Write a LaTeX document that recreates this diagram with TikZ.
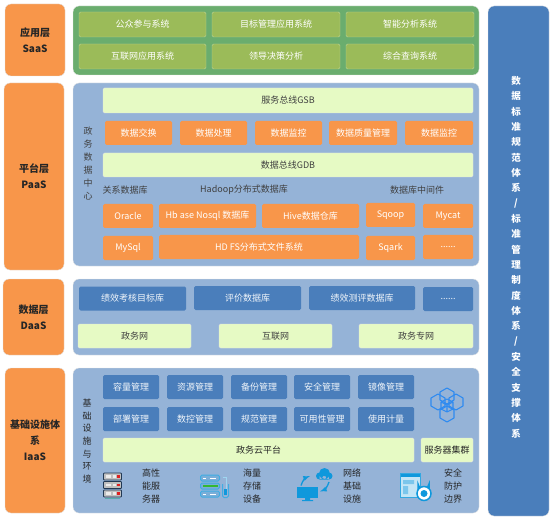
\documentclass[tikz,border=0pt]{standalone}
\usepackage{fontspec}
\setmainfont{Noto Sans CJK SC}
\usepackage{xcolor}
\usetikzlibrary{positioning,calc}
\definecolor{org}{HTML}{F8964A}
\definecolor{grn}{HTML}{6AAD6E}
\definecolor{olv}{HTML}{9BBB59}
\definecolor{sky}{HTML}{95B3D7}
\definecolor{nav}{HTML}{4A7EBB}
\definecolor{pal}{HTML}{E6FAC4}
\definecolor{ico}{HTML}{2F8BF0}
\definecolor{lnk}{HTML}{0F98DC}
\definecolor{txt}{HTML}{404040}
\begin{document}
\begin{tikzpicture}[x=1pt,y=-1pt,font=\fontsize{9}{10}\selectfont,
  layer/.style={draw=black!12, fill=org, rounded corners=6pt, inner sep=0pt, align=center, font=\fontsize{10}{16}\selectfont\bfseries, text=black!85},
  panel/.style={draw=black!10, rounded corners=6pt, inner sep=0pt},
  appbox/.style={draw=white!35!olv, fill=olv, rounded corners=1.5pt, inner sep=0pt, minimum height=25pt, text=white},
  orgbox/.style={fill=org, rounded corners=1.5pt, inner sep=0pt, minimum height=24pt, text=white},
  navbox/.style={fill=nav, rounded corners=1.5pt, inner sep=0pt, minimum height=24pt, text=white!92!nav},
  palbox/.style={draw=black!10, fill=pal, rounded corners=1.5pt, inner sep=0pt, minimum height=24pt, text=txt},
  lab/.style={inner sep=0pt, text=txt, font=\fontsize{9}{10}\selectfont},
  vlab/.style={inner sep=0pt, text=txt, font=\fontsize{9}{10}\selectfont},
  dark/.style={inner sep=0pt, text=black!85, font=\fontsize{9}{10}\selectfont},
  hexa/.pic={\draw[ico, line width=1.1pt, line join=round] (0,-8)--(7,-4)--(7,4)--(0,8)--(-7,4)--(-7,-4)--cycle;}]
\useasboundingbox (0,0) rectangle (553,518);
% left column
\node[layer, minimum width=60pt, minimum height=72pt] (saas) at (35,40) {应用层\\SaaS};
\node[layer, minimum width=60pt, minimum height=187pt] (paas) at (34,176.5) {平台层\\PaaS};
\node[layer, minimum width=61pt, minimum height=76pt] (daas) at (33.5,317) {数据层\\DaaS};
\node[layer, minimum width=60pt, minimum height=145pt] (iaas) at (35,440.5) {基础设施体\\系\\IaaS};
% panels
\node[panel, fill=grn, minimum width=406pt, minimum height=69pt] (apppanel) at (276,40.5) {};
\node[panel, fill=sky, minimum width=406pt, minimum height=183pt] (platpanel) at (276,174.5) {};
\node[panel, fill=sky, minimum width=406pt, minimum height=76pt] (datapanel) at (276,317) {};
\node[panel, fill=sky, minimum width=406pt, minimum height=145pt] (infrapanel) at (276,440.5) {};
\node[panel, fill=nav, minimum width=61pt, minimum height=510pt] (stdpanel) at (518.5,261) {};
\foreach \t [count=\i from 0] in {数,据,标,准,规,范,体,系,/,标,准,管,理,制,度,体,系,/,安,全,支,撑,体,系}
  \node[inner sep=0pt, text=white, font=\fontsize{9.5}{10}\selectfont\bfseries] (std\i) at (516,81+15.32*\i) {\t};
% SaaS
\foreach \n/\x/\y/\w/\t in {a/142.5/24.5/127/公众参与系统, b/276/24.5/128/目标管理应用系统, c/410/24.5/128/智能分析系统,
  d/142.5/56.5/127/互联网应用系统, e/276/56.5/128/领导决策分析, f/410/56.5/128/综合查询系统}
  \node[appbox, minimum width=\w pt] (app\n) at (\x,\y) {\t};
% PaaS
\node[palbox, minimum width=370pt, minimum height=25pt] (gsb) at (288,100.5) {服务总线GSB};
\foreach \n/\x/\w/\t in {a/138.5/67/数据交换, b/213.5/67/数据处理, c/288.5/67/数据监控, d/363/68/数据质量管理, e/439/68/数据监控}
  \node[orgbox, minimum width=\w pt] (svc\n) at (\x,133) {\t};
\node[palbox, minimum width=370pt] (gdb) at (288,165) {数据总线GDB};
\foreach \t [count=\i from 0] in {政,务,数,据,中,心}
  \node[vlab] (dc\i) at (88,131+13*\i) {\t};
\node[lab] (rdb) at (125,190) {关系数据库};
\node[lab] (hadoop) at (244,190) {Hadoop分布式数据库};
\node[lab] (mid) at (417,190) {数据库中间件};
\foreach \n/\x/\y/\w/\t in {oracle/128/216/50/Oracle, hbase/207.5/216/97/Hb ase Nosql 数据库, hive/310.5/216/97/Hive数据仓库,
  sqoop/390.5/215/49/Sqoop, mycat/448/216/50/Mycat, mysql/128/248/50/MySql, hdfs/259/247/200/HD FS分布式文件系统,
  sqark/390.5/248/49/Sqark, more/448/247/50/{......}}
  \node[orgbox, minimum width=\w pt] (\n) at (\x,\y) {\t};
% DaaS
\foreach \n/\x/\y/\w/\t in {kpi/132.5/298.5/107/绩效考核目标库, eval/247.5/298/107/评价数据库, perf/362/298/106/绩效测评数据库, dots/448/299/50/{......}}
  \node[navbox, minimum width=\w pt] (\n) at (\x,\y) {\t};
\foreach \n/\x/\w/\t in {gov/134.5/113/政务网, web/275.5/113/互联网, priv/416/114/政务专网}
  \node[palbox, minimum width=\w pt] (\n) at (\x,336) {\t};
% IaaS
\foreach \n/\x/\t in {cap/131/容量管理, res/195/资源管理, bak/259/备份管理, sec/322/安全管理, img/386/镜像管理}
  \node[navbox, minimum width=56pt] (\n) at (\x,387) {\t};
\foreach \n/\x/\t in {dep/131/部署管理, ctl/195/数控管理, nrm/259/规范管理, ava/322/可用性管理, use/386/使用计量}
  \node[navbox, minimum width=56pt] (\n) at (\x,419) {\t};
\node[palbox, minimum width=311pt, text=black!85] (cloud) at (258.5,450) {政务云平台};
\node[palbox, minimum width=52pt, text=black!85] (cluster) at (447,450) {服务器集群};
\foreach \t [count=\i from 0] in {基,础,设,施,与,环,境}
  \node[dark] (infra\i) at (87,403+12.7*\i) {\t};
\foreach \n/\x/\a/\b/\c in {srv/151/高性/能服/务器, sto/252/海量/存储/设备, net/352/网络/基础/设施, saf/453/安全/防护/边界}{
  \node[dark] (\n a) at (\x,473) {\a};
  \node[dark] (\n b) at (\x,486) {\b};
  \node[dark] (\n c) at (\x,499) {\c};
}
% cluster icon
\foreach \x/\y in {447/396, 438/402, 456/402, 447/414} \pic at (\x,\y) {hexa};
\draw[ico, line width=1.1pt, line join=round] (441,402)--(447,399)--(453,402)--(453,409)--(447,412)--(441,409)--cycle (441,402)--(447,405)--(453,402) (447,405)--(447,412);
% server icon
\foreach \y in {473,481.5,490}{
  \draw[black!55!nav, fill=gray!50, line width=.8pt, rounded corners=.8pt] (103.5,\y) rectangle (121.5,\y+7);
  \fill[white!85!gray] (105.5,\y+2) rectangle (111,\y+4.5);
  \fill[white!85!gray] (113,\y+2) rectangle (115.5,\y+4.5);
  \fill[red!75!gray] (117,\y+2) rectangle (119.5,\y+4.5);
}
\fill[teal!65] (105,497.5) rectangle (120,499);
% storage icon
\foreach \y in {475,483,491}
  \draw[lnk!80!white, line width=1pt, rounded corners=1.5pt, fill=sky!80!lnk] (200.5,\y) rectangle (219.5,\y+6);
\fill[green!65!black!80] (202.5,485) rectangle (217.5,487);
\foreach \y in {478,494}{
  \fill[white] (203,\y-.5) rectangle (206,\y+.5);
  \fill[white] (210,\y-.5) rectangle (216,\y+.5);
}
\draw[lnk!80!white, line width=1pt, rounded corners=1.5pt] (222.5,484) -- (222.5,497.5) -- (228.5,497.5) -- (228.5,484);
\draw[lnk!40!white, line width=1pt] (223,477) -- (226,477) -- (226,490);
\fill[lnk] (224,489) rectangle (227,495);
% network icon
\fill[lnk] (297,487) rectangle (318,498);
\fill[lnk] (305,498) rectangle (310,500) (302,500) rectangle (313,501);
\fill[lnk] (319.5,476) circle[radius=3.5] (324.5,473.5) circle[radius=5.5] (329,476) circle[radius=3.5] (319.5,476) rectangle (329,479.5);
\draw[lnk, line width=1.3pt, -{latex}] (301,485.5) to[bend left=25] (310,476);
\draw[lnk, line width=1.3pt, -{latex}] (329,482) to[bend left=25] (320,491.5);
% security icon
\draw[lnk!85!white, line width=1pt, fill=white!75!lnk] (400.5,473.5) rectangle (420,497);
\fill[lnk] (400.5,473.5) rectangle (420,477);
\fill[lnk!55!white] (403,480) rectangle (414,484) (403,486) rectangle (408,494);
\draw[lnk, line width=1.5pt, fill=sky] (418,490) -- (418,484) arc[start angle=180,end angle=0,radius=5.5] -- (429,490);
\draw[lnk, line width=1.5pt, fill=white] (424,493.5) circle[radius=7];
\fill[lnk] (424,493.5) circle[radius=3.5];
\end{tikzpicture}
\end{document}
